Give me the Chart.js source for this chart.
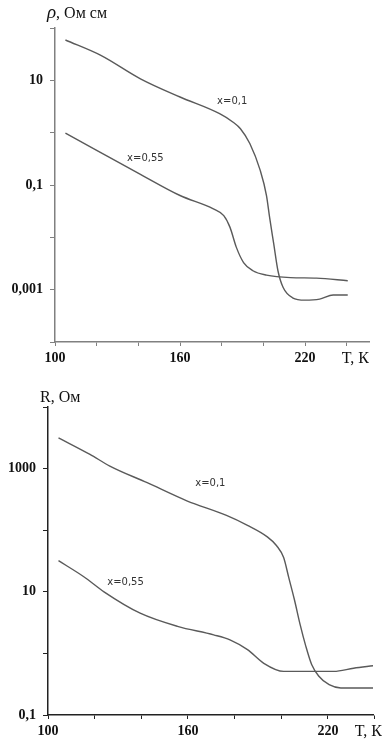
<!DOCTYPE html>
<html>
<head>
<meta charset="utf-8">
<script src="https://cdn.jsdelivr.net/npm/chart.js@4.4.1/dist/chart.umd.min.js"></script>
<style>
  body { margin: 0; background: #fff; }
  canvas { display: block; }
</style>
</head>
<body>
<canvas id="rhoChart" width="382" height="370"></canvas>
<canvas id="resChart" width="382" height="372"></canvas>
<script>
// resistivity, Ом см  (upper panel)
const tempRho01 = [105, 122, 141, 160, 179, 185.5, 189, 193.5, 198.5, 201.5, 203, 205, 207, 209.5, 214, 220, 227, 233.5, 240.5];
const rho01 = [59, 30, 10.7, 4.8, 2.3, 1.58, 1.19, 0.62, 0.19, 0.063, 0.024, 0.0074, 0.0023, 0.0011, 0.0007, 0.00063, 0.00066, 0.00079, 0.00079];
const tempRho055 = [105, 120, 141, 160, 176, 181, 184, 187, 190.5, 195, 201.5, 213, 225.5, 240.5];
const rho055 = [0.98, 0.46, 0.16, 0.063, 0.035, 0.026, 0.0155, 0.0065, 0.0033, 0.0023, 0.0019, 0.0017, 0.00166, 0.00148];

// resistance, Ом  (lower panel)
const tempR01 = [104.5, 118, 126.5, 142.5, 159.5, 176.5, 185.5, 194, 198, 201, 203.2, 205.6, 208.1, 210.4, 213, 216, 220.5, 225.5, 239.5];
const r01 = [3160, 1700, 1100, 590, 300, 174, 120, 78, 56, 36, 17, 7.5, 2.9, 1.35, 0.66, 0.43, 0.31, 0.275, 0.275];
const tempR055 = [104.5, 115.5, 124, 139.5, 155.5, 171, 178, 185.5, 192.5, 201, 222.5, 231, 239.5];
const r055 = [32, 17.4, 10, 4.5, 2.75, 2.0, 1.66, 1.15, 0.69, 0.51, 0.51, 0.575, 0.63];

const tempTicks = [100, 120, 140, 160, 180, 200, 220, 240];
const tempLabels = [100, 160, 220];
const rhoTicks = [1e-4, 1e-3, 1e-2, 1e-1, 1, 10, 100];
const rhoLabels = { 10: '10', 0.1: '0,1', 0.001: '0,001' };
const resTicks = [0.1, 1, 10, 100, 1000, 10000];
const resLabels = { 1000: '1000', 10: '10', 0.1: '0,1' };

const tickFont = { family: 'Liberation Serif', size: 14, weight: 'bold' };

function pts(xs, ys) {
  return xs.map((x, i) => ({ x: x, y: ys[i] }));
}

function series(xs, ys) {
  return {
    data: pts(xs, ys),
    borderColor: '#5a5a5a',
    borderWidth: 1.4,
    pointRadius: 0,
    cubicInterpolationMode: 'monotone',
    fill: false
  };
}

// draws axis titles and curve captions
const textPlugin = {
  id: 'texts',
  afterDraw(chart) {
    const o = chart.options.plugins.texts;
    const ctx = chart.ctx;
    const xs = chart.scales.x, ys = chart.scales.y;
    const area = chart.chartArea;
    ctx.save();
    ctx.fillStyle = '#111';
    ctx.textBaseline = 'alphabetic';
    ctx.textAlign = 'left';
    let tx = area.left - 8;
    const ty = area.top - o.titleGap;
    if (o.symbol) {
      ctx.font = 'italic 19px "Liberation Serif"';
      ctx.fillText(o.symbol, tx, ty);
      tx += ctx.measureText(o.symbol).width;
    }
    ctx.font = '16px "Liberation Serif"';
    ctx.fillText(o.title, tx, ty);

    ctx.textAlign = 'right';
    ctx.font = '16px "Liberation Serif"';
    ctx.fillText('T, К', o.unitX, area.bottom + 21);

    ctx.textAlign = 'left';
    ctx.fillStyle = '#333';
    ctx.font = '10px "DejaVu Sans"';
    o.captions.forEach((c) => {
      ctx.fillText(c.text, xs.getPixelForValue(c.x), ys.getPixelForValue(c.y) + 4);
    });
    ctx.restore();
  }
};

function makeChart(id, cfg) {
  return new Chart(document.getElementById(id), {
    type: 'line',
    data: { datasets: cfg.datasets },
    options: {
      responsive: false,
      animation: false,
      layout: { padding: { top: cfg.top, right: cfg.right, left: 0, bottom: 0 } },
      plugins: {
        legend: { display: false },
        tooltip: { enabled: false },
        texts: cfg.texts
      },
      scales: {
        x: {
          type: 'linear',
          min: 100,
          max: cfg.xMax,
          afterFit: (s) => { s.height = cfg.xHeight; },
          afterBuildTicks: (s) => { s.ticks = tempTicks.map((v) => ({ value: v })); },
          border: { display: true, color: cfg.axisColor, width: 1.5 },
          grid: { drawOnChartArea: false, drawTicks: true, tickLength: 4, color: cfg.axisColor },
          ticks: {
            autoSkip: false,
            maxRotation: 0,
            color: '#111',
            font: tickFont,
            padding: 4,
            callback: (v) => (tempLabels.includes(v) ? String(v) : '')
          }
        },
        y: {
          type: 'logarithmic',
          min: cfg.yMin,
          max: cfg.yMax,
          afterFit: (s) => { s.width = cfg.yWidth; },
          afterBuildTicks: (s) => { s.ticks = cfg.yTicks.map((v) => ({ value: v })); },
          border: { display: true, color: cfg.axisColor, width: 1.5 },
          grid: { drawOnChartArea: false, drawTicks: true, tickLength: 5, color: cfg.axisColor },
          ticks: {
            autoSkip: false,
            color: '#111',
            font: tickFont,
            padding: 7,
            callback: (v) => cfg.yLabels[v] || ''
          }
        }
      }
    },
    plugins: [textPlugin]
  });
}

makeChart('rhoChart', {
  datasets: [series(tempRho01, rho01), series(tempRho055, rho055)],
  xMax: 250.7, yMin: 1e-4, yMax: 100,
  yTicks: rhoTicks, yLabels: rhoLabels,
  top: 28, right: 13, xHeight: 28, yWidth: 55,
  axisColor: '#808080',
  texts: {
    symbol: 'ρ',
    title: ', Ом см',
    titleGap: 10,
    unitX: 369,
    captions: [
      { text: 'x=0,1', x: 177.8, y: 4.3 },
      { text: 'x=0,55', x: 134.6, y: 0.35 }
    ]
  }
});

makeChart('resChart', {
  datasets: [series(tempR01, r01), series(tempR055, r055)],
  xMax: 239.3, yMin: 0.1, yMax: 10000,
  yTicks: resTicks, yLabels: resLabels,
  top: 37, right: 9, xHeight: 27, yWidth: 48,
  axisColor: '#222',
  texts: {
    symbol: '',
    title: 'R, Ом',
    titleGap: 5,
    unitX: 382,
    captions: [
      { text: 'x=0,1', x: 163.1, y: 600 },
      { text: 'x=0,55', x: 125.4, y: 14.7 }
    ]
  }
});
</script>
</body>
</html>
